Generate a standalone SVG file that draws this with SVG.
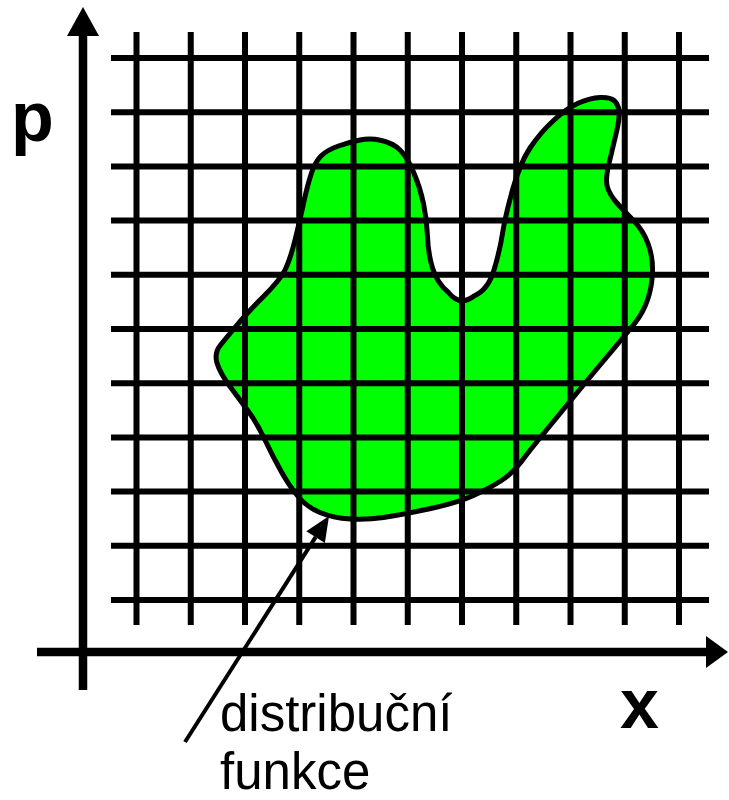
<svg xmlns="http://www.w3.org/2000/svg" width="729" height="800" viewBox="0 0 729 800">
  <style>
    .grid { stroke: #000; stroke-width: 6; fill: none; }
    .axis { stroke: #000; stroke-width: 8.5; fill: none; }
    .head { fill: #000; stroke: none; }
    .blobfill { fill: #00ff00; stroke: none; }
    .blobline { fill: none; stroke: #000; stroke-width: 5; stroke-linejoin: round; }
    .axlabel { font-family: "Liberation Sans", Arial, sans-serif; font-weight: bold; font-size: 70px; fill: #000; }
    .label { font-family: "Liberation Sans", Arial, sans-serif; font-size: 51px; fill: #000; }
    .pointer { stroke: #000; stroke-width: 4; fill: none; }
  </style>
  <defs>
    <path id="blobShape" d="M 360,140 Q 370,138 381.5,140.5 Q 393,143 400,150 Q 407,157 413.5,172 Q 420,187 423.5,203.5 Q 427,220 427.5,236.5 Q 428,253 432.5,268 Q 437,283 448.5,292.5 Q 460,307 474,296 Q 488,290 494,270 Q 500,250 502.5,233.5 Q 505,217 512.5,190 Q 520,163 530,148 Q 540,133 553.5,120.5 Q 567,108 578.5,103 Q 590,98 600,97.5 Q 610,97 614,100.5 Q 618,104 619,110.5 Q 620,117 616.5,132 Q 613,147 609,163.5 Q 605,180 607.5,187.5 Q 610,195 616.5,202.5 Q 623,210 633,220 Q 643,230 648,243.5 Q 653,257 652.5,272 Q 652,287 647.5,300 Q 643,313 635,323 Q 627,333 608.5,355 Q 590,377 576.5,393.5 Q 563,410 546.5,430 Q 530,450 521.5,461.5 Q 513,473 501.5,480.5 Q 490,488 473.5,495.5 Q 457,503 428.5,509 Q 400,515 383.5,517.5 Q 367,520 350,519 Q 333,518 320,512.5 Q 307,507 298.5,497 Q 290,487 281.5,472 Q 273,457 265,440 Q 257,423 248.5,411.5 Q 240,400 230,386.5 Q 220,373 217,363 Q 214,353 220.5,345 Q 227,337 237,325 Q 247,313 263.5,296.5 Q 280,280 285,270 Q 290,260 295,240 Q 300,220 303.5,203.5 Q 307,187 311,174.5 Q 315,162 321,156 Q 327,150 338.5,146 Q 350,142 360,140 Z"/>
    <marker id="arrow" markerUnits="userSpaceOnUse" markerWidth="26" markerHeight="24" viewBox="0 -12 26 24" refX="0" refY="0" orient="auto" overflow="visible">
      <path d="M0,-11 L25,0 L0,11 Z" fill="#000"/>
    </marker>
  </defs>

  <g id="distribution">
    <use href="#blobShape" class="blobfill"/>
  </g>

  <g id="grid">
    <path class="grid" d="M136.5,32 V625 M190.75,32 V625 M245,32 V625 M299.25,32 V625 M353.5,32 V625 M407.75,32 V625 M462,32 V625 M516.25,32 V625 M570.5,32 V625 M624.75,32 V625 M679,32 V625"/>
    <path class="grid" d="M111,58 H709 M111,112.2 H709 M111,166.4 H709 M111,220.6 H709 M111,274.8 H709 M111,329 H709 M111,383.2 H709 M111,437.4 H709 M111,491.6 H709 M111,545.8 H709 M111,600 H709"/>
  </g>

  <g id="distribution-outline">
    <use href="#blobShape" class="blobline"/>
  </g>

  <g id="p-axis">
    <line class="axis" x1="83" y1="690" x2="83" y2="34"/>
    <polygon class="head" points="67,36 99,36 83,7"/>
    <text class="axlabel" x="11" y="141">p</text>
  </g>

  <g id="x-axis">
    <line class="axis" x1="37" y1="652" x2="708" y2="652"/>
    <polygon class="head" points="706,636 706,668 728,652"/>
    <text class="axlabel" x="620" y="728">x</text>
  </g>

  <g id="label">
    <text class="label"><tspan x="220" y="731">distribuční</tspan><tspan x="220" y="788.5">funkce</tspan></text>
  </g>

  <g id="connectors">
    <line class="pointer" x1="185" y1="742" x2="315.6" y2="537.1" marker-end="url(#arrow)"/>
  </g>
</svg>
